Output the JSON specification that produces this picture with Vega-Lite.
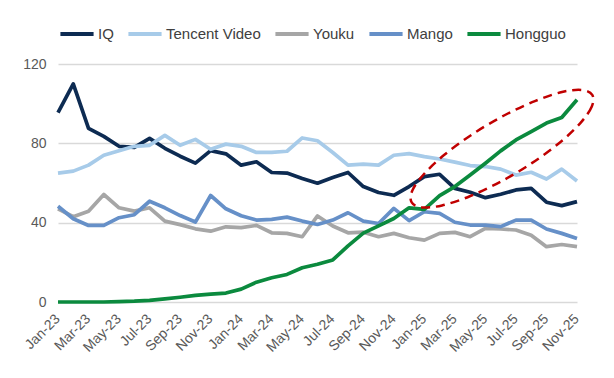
{
  "$schema": "https://vega.github.io/schema/vega-lite/v6.json",
  "width": 519,
  "height": 238,
  "autosize": {"type": "none"},
  "padding": {"left": 58, "top": 64, "right": 37, "bottom": 76},
  "background": "white",
  "config": {"view": {"stroke": null}, "font": "Liberation Sans"},
  "data": {
    "values": [
      {"t": 0, "month": "Jan-23", "IQ": 95.5, "Tencent Video": 65, "Youku": 47, "Mango": 48.3, "Hongguo": 0},
      {"t": 1, "month": "Feb-23", "IQ": 110, "Tencent Video": 66, "Youku": 43, "Mango": 42, "Hongguo": 0},
      {"t": 2, "month": "Mar-23", "IQ": 87.5, "Tencent Video": 69, "Youku": 45.8, "Mango": 38.6, "Hongguo": 0},
      {"t": 3, "month": "Apr-23", "IQ": 83.5, "Tencent Video": 74, "Youku": 54.2, "Mango": 38.6, "Hongguo": 0},
      {"t": 4, "month": "May-23", "IQ": 78.5, "Tencent Video": 76.3, "Youku": 47.5, "Mango": 42.5, "Hongguo": 0.2},
      {"t": 5, "month": "Jun-23", "IQ": 78, "Tencent Video": 78.5, "Youku": 45.8, "Mango": 44, "Hongguo": 0.4},
      {"t": 6, "month": "Jul-23", "IQ": 82.5, "Tencent Video": 79, "Youku": 47.5, "Mango": 50.8, "Hongguo": 0.8},
      {"t": 7, "month": "Aug-23", "IQ": 77.5, "Tencent Video": 84, "Youku": 40.8, "Mango": 47.5, "Hongguo": 1.6},
      {"t": 8, "month": "Sep-23", "IQ": 73.5, "Tencent Video": 79, "Youku": 39, "Mango": 43.6, "Hongguo": 2.4},
      {"t": 9, "month": "Oct-23", "IQ": 70, "Tencent Video": 82, "Youku": 36.9, "Mango": 40.3, "Hongguo": 3.3},
      {"t": 10, "month": "Nov-23", "IQ": 76.3, "Tencent Video": 77, "Youku": 35.7, "Mango": 53.7, "Hongguo": 4},
      {"t": 11, "month": "Dec-23", "IQ": 74.7, "Tencent Video": 79.6, "Youku": 37.9, "Mango": 47, "Hongguo": 4.5},
      {"t": 12, "month": "Jan-24", "IQ": 69, "Tencent Video": 78.5, "Youku": 37.5, "Mango": 43.5, "Hongguo": 6.5},
      {"t": 13, "month": "Feb-24", "IQ": 70.7, "Tencent Video": 75.4, "Youku": 38.6, "Mango": 41.3, "Hongguo": 10},
      {"t": 14, "month": "Mar-24", "IQ": 65.3, "Tencent Video": 75.4, "Youku": 34.9, "Mango": 41.7, "Hongguo": 12.2},
      {"t": 15, "month": "Apr-24", "IQ": 65, "Tencent Video": 76, "Youku": 34.6, "Mango": 42.8, "Hongguo": 13.9},
      {"t": 16, "month": "May-24", "IQ": 62.3, "Tencent Video": 82.7, "Youku": 32.9, "Mango": 40.8, "Hongguo": 17.3},
      {"t": 17, "month": "Jun-24", "IQ": 59.9, "Tencent Video": 81.3, "Youku": 43.4, "Mango": 39.1, "Hongguo": 19},
      {"t": 18, "month": "Jul-24", "IQ": 62.8, "Tencent Video": 75.4, "Youku": 38.3, "Mango": 41.3, "Hongguo": 21.2},
      {"t": 19, "month": "Aug-24", "IQ": 65.3, "Tencent Video": 69, "Youku": 34.9, "Mango": 45, "Hongguo": 28.3},
      {"t": 20, "month": "Sep-24", "IQ": 58.2, "Tencent Video": 69.5, "Youku": 35.2, "Mango": 40.8, "Hongguo": 34.7},
      {"t": 21, "month": "Oct-24", "IQ": 55.2, "Tencent Video": 69, "Youku": 32.9, "Mango": 39.6, "Hongguo": 38.4},
      {"t": 22, "month": "Nov-24", "IQ": 53.8, "Tencent Video": 74, "Youku": 34.6, "Mango": 47.2, "Hongguo": 42.1},
      {"t": 23, "month": "Dec-24", "IQ": 58.2, "Tencent Video": 74.8, "Youku": 32.4, "Mango": 41, "Hongguo": 47.5},
      {"t": 24, "month": "Jan-25", "IQ": 63.2, "Tencent Video": 73.3, "Youku": 31.2, "Mango": 45.5, "Hongguo": 46.7},
      {"t": 25, "month": "Feb-25", "IQ": 64.4, "Tencent Video": 72.1, "Youku": 34.6, "Mango": 44.7, "Hongguo": 53.6},
      {"t": 26, "month": "Mar-25", "IQ": 57.3, "Tencent Video": 70.5, "Youku": 35.1, "Mango": 40.2, "Hongguo": 58.2},
      {"t": 27, "month": "Apr-25", "IQ": 55.3, "Tencent Video": 68.8, "Youku": 32.9, "Mango": 38.8, "Hongguo": 64},
      {"t": 28, "month": "May-25", "IQ": 52.6, "Tencent Video": 68.3, "Youku": 37.1, "Mango": 38.8, "Hongguo": 70},
      {"t": 29, "month": "Jun-25", "IQ": 54.3, "Tencent Video": 67, "Youku": 36.8, "Mango": 38, "Hongguo": 76.2},
      {"t": 30, "month": "Jul-25", "IQ": 56.5, "Tencent Video": 64, "Youku": 36.3, "Mango": 41.3, "Hongguo": 81.7},
      {"t": 31, "month": "Aug-25", "IQ": 57.3, "Tencent Video": 65.4, "Youku": 33.7, "Mango": 41.3, "Hongguo": 85.9},
      {"t": 32, "month": "Sep-25", "IQ": 50.3, "Tencent Video": 62, "Youku": 27.9, "Mango": 36.8, "Hongguo": 90.2},
      {"t": 33, "month": "Oct-25", "IQ": 48.6, "Tencent Video": 67, "Youku": 29, "Mango": 34.6, "Hongguo": 93},
      {"t": 34, "month": "Nov-25", "IQ": 50.6, "Tencent Video": 61, "Youku": 27.9, "Mango": 32, "Hongguo": 102}
    ]
  },
  "layer": [
    {
      "transform": [
        {"fold": ["IQ", "Tencent Video", "Youku", "Mango", "Hongguo"], "as": ["series", "value"]}
      ],
      "mark": {"type": "line", "strokeWidth": 3.7, "strokeJoin": "round"},
      "encoding": {
        "x": {
          "field": "t",
          "type": "quantitative",
          "scale": {"domain": [0, 34], "nice": false, "zero": false},
          "axis": null
        },
        "y": {
          "field": "value",
          "type": "quantitative",
          "scale": {"domain": [0, 120]},
          "axis": {
            "title": null,
            "values": [0, 20, 40, 60, 80, 100, 120],
            "grid": true,
            "gridColor": "#d9d9d9",
            "gridWidth": 1.5,
            "domain": false,
            "ticks": false,
            "labelFontSize": 14,
            "labelColor": "#595959",
            "labelPadding": 12
          }
        },
        "color": {
          "field": "series",
          "type": "nominal",
          "scale": {
            "domain": ["IQ", "Tencent Video", "Youku", "Mango", "Hongguo"],
            "range": ["#0d2b52", "#a7cbe9", "#a6a6a6", "#6690c8", "#0b8a3e"]
          },
          "legend": {
            "orient": "top",
            "direction": "horizontal",
            "title": null,
            "symbolType": "stroke",
            "symbolSize": 1100,
            "symbolStrokeWidth": 4,
            "labelFontSize": 15,
            "labelColor": "#404040",
            "labelOffset": 2,
            "columnPadding": 6,
            "offset": 22
          }
        }
      }
    },
    {
      "transform": [{"filter": "datum.t % 2 == 0"}],
      "mark": {
        "type": "text",
        "angle": 315,
        "align": "right",
        "baseline": "middle",
        "radius": 15,
        "theta": 3.14159,
        "fontSize": 14,
        "color": "#595959"
      },
      "encoding": {
        "x": {"field": "t", "type": "quantitative"},
        "y": {"datum": 0, "type": "quantitative"},
        "text": {"field": "month"}
      }
    },
    {
      "data": {
        "values": [
          {"k": 0, "t": 35.0, "v": 104.4},
          {"k": 1, "t": 34.97, "v": 98.6},
          {"k": 2, "t": 34.22, "v": 90.2},
          {"k": 3, "t": 32.86, "v": 80.3},
          {"k": 4, "t": 31.04, "v": 70.0},
          {"k": 5, "t": 28.98, "v": 60.6},
          {"k": 6, "t": 26.94, "v": 53.2},
          {"k": 7, "t": 25.16, "v": 48.7},
          {"k": 8, "t": 23.85, "v": 47.7},
          {"k": 9, "t": 23.17, "v": 50.2},
          {"k": 10, "t": 23.2, "v": 56.0},
          {"k": 11, "t": 23.95, "v": 64.3},
          {"k": 12, "t": 25.31, "v": 74.2},
          {"k": 13, "t": 27.13, "v": 84.5},
          {"k": 14, "t": 29.19, "v": 93.9},
          {"k": 15, "t": 31.24, "v": 101.3},
          {"k": 16, "t": 33.02, "v": 105.9},
          {"k": 17, "t": 34.33, "v": 106.9}
        ]
      },
      "mark": {"type": "line", "interpolate": "cardinal-closed", "strokeDash": [9, 6], "strokeWidth": 2.5, "color": "#c00000"},
      "encoding": {
        "x": {"field": "t", "type": "quantitative"},
        "y": {"field": "v", "type": "quantitative"},
        "order": {"field": "k", "type": "quantitative"}
      }
    }
  ]
}
